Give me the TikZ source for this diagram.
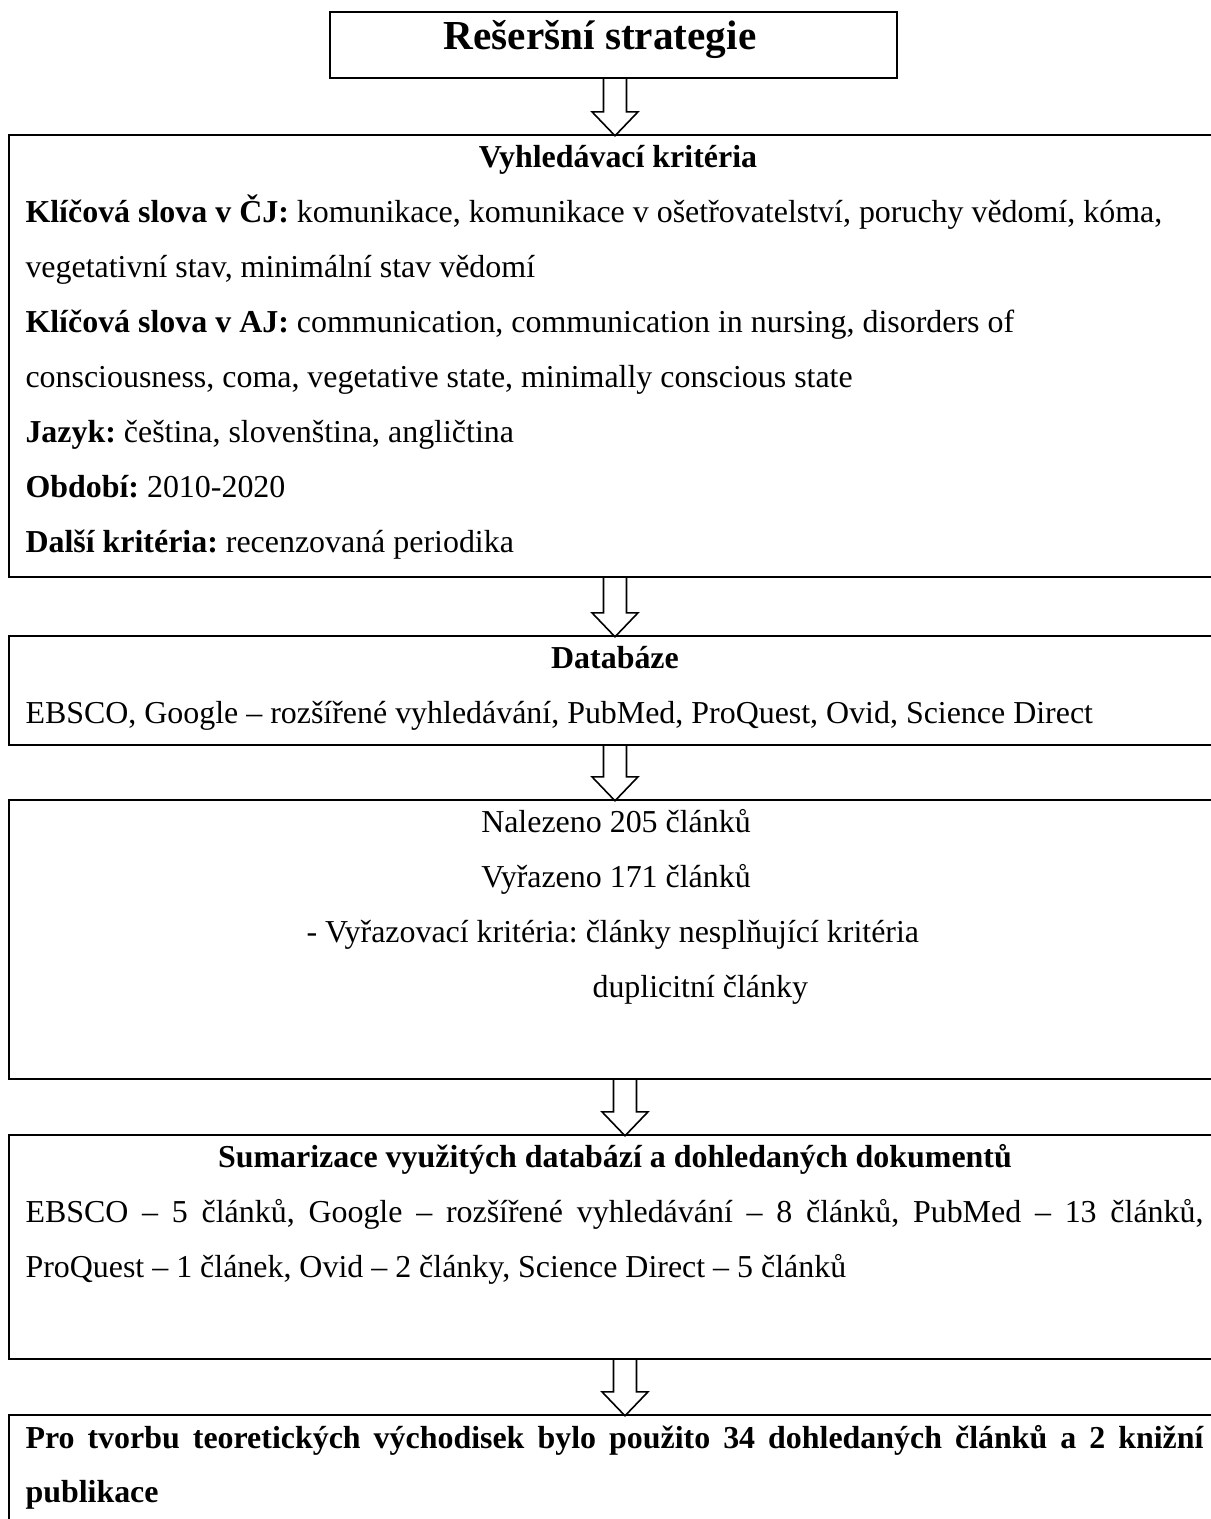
\documentclass[tikz,border=0pt]{standalone}
\usepackage{fontspec}
\setmainfont{Liberation Serif}
\usetikzlibrary{calc,fit}
\frenchspacing

\tikzset{
  panel/.style={draw, line width=0.9pt, inner sep=0pt, rectangle},
  textline/.style={inner sep=0pt, anchor=west, font=\fontsize{12}{14}\selectfont,
    text height=8.5pt, text depth=2.5pt},
  headline/.style={textline, anchor=center, font=\fontsize{12}{14}\selectfont\bfseries},
  flowline/.style={line width=0.6pt, line join=miter},
}

% hollow block arrow from box #1 down to box #2, at the x of coordinate #3
\newcommand{\flowdown}[3]{%
  \draw[flowline]
    ($(#1.south -| #3)+(-11.5,0)$) -- ($(#2.north -| #3)+(-11.5,-22)$)
    -- ($(#2.north -| #3)+(-23,-22)$) -- ($(#2.north -| #3)+(0,2)$)
    -- ($(#2.north -| #3)+(23,-22)$) -- ($(#2.north -| #3)+(11.5,-22)$)
    -- ($(#1.south -| #3)+(11.5,0)$);
}

\begin{document}
\begin{tikzpicture}[x=0.3759pt, y=-0.3759pt]
  \useasboundingbox (0,0) rectangle (1211,1519);
  \clip (0,0) rectangle (1211,1519);

  % boxes
  \node[panel, fit={(330,12) (897,78)}] (strategie) {};
  \node[panel, fit={(9,135) (1216,577)}] (kriteria) {};
  \node[panel, fit={(9,636) (1216,745)}] (databaze) {};
  \node[panel, fit={(9,800) (1216,1079)}] (nalezeno) {};
  \node[panel, fit={(9,1135) (1216,1359)}] (sumarizace) {};
  \node[panel, fit={(9,1415) (1216,1530)}] (zaver) {};

  % texts
  \node[headline, font=\fontsize{15.5}{17}\selectfont\bfseries] (tstrategie) at (600,42) {Rešeršní strategie};

  \node[headline] (tkriteria) at (618,160) {Vyhledávací kritéria};
  \node[textline] (kcj1) at (25,215) {\textbf{Klíčová slova v ČJ:} komunikace, komunikace v ošetřovatelství, poruchy vědomí, kóma,};
  \node[textline] (kcj2) at (25,270) {vegetativní stav, minimální stav vědomí};
  \node[textline] (kaj1) at (25,325) {\textbf{Klíčová slova v AJ:} communication, communication in nursing, disorders of};
  \node[textline] (kaj2) at (25,380) {consciousness, coma, vegetative state, minimally conscious state};
  \node[textline] (jazyk) at (25,435) {\textbf{Jazyk:} čeština, slovenština, angličtina};
  \node[textline] (obdobi) at (25,490) {\textbf{Období:} 2010-2020};
  \node[textline] (dalsi) at (25,545) {\textbf{Další kritéria:} recenzovaná periodika};

  \node[headline] (tdatabaze) at (615,661) {Databáze};
  \node[textline] (zdroje) at (25,716) {EBSCO, Google – rozšířené vyhledávání, PubMed, ProQuest, Ovid, Science Direct};

  \node[headline, font=\fontsize{12}{14}\selectfont] (nalez) at (616,825) {Nalezeno 205 článků};
  \node[headline, font=\fontsize{12}{14}\selectfont] (vyraz) at (616,880) {Vyřazeno 171 článků};
  \node[textline] (vkrit) at (306,935) {- Vyřazovací kritéria: články nesplňující kritéria};
  \node[textline] (dupl) at (592,990) {duplicitní články};

  \node[headline] (tsumarizace) at (615,1160) {Sumarizace využitých databází a dohledaných dokumentů};
  \node[textline] (sum1) at (25,1215) {\makebox[442.8pt][s]{EBSCO – 5 článků, Google – rozšířené vyhledávání – 8 článků, PubMed – 13 článků,}};
  \node[textline] (sum2) at (25,1270) {ProQuest – 1 článek, Ovid – 2 články, Science Direct – 5 článků};

  \node[textline, font=\fontsize{12}{14}\selectfont\bfseries] (zav1) at (25,1440) {\makebox[442.8pt][s]{Pro tvorbu teoretických východisek bylo použito 34 dohledaných článků a 2 knižní}};
  \node[textline, font=\fontsize{12}{14}\selectfont\bfseries] (zav2) at (25,1495) {publikace};

  % arrows
  \coordinate (ax) at (615,0);
  \coordinate (bx) at (625,0);
  \flowdown{strategie}{kriteria}{ax}
  \flowdown{kriteria}{databaze}{ax}
  \flowdown{databaze}{nalezeno}{ax}
  \flowdown{nalezeno}{sumarizace}{bx}
  \flowdown{sumarizace}{zaver}{bx}
\end{tikzpicture}
\end{document}
